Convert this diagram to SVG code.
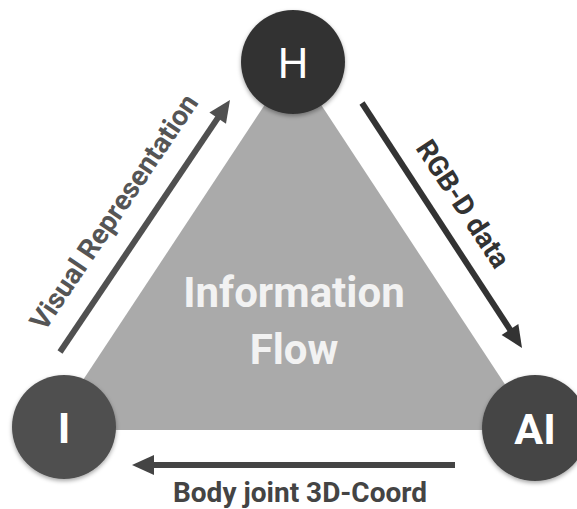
<svg xmlns="http://www.w3.org/2000/svg" width="577" height="509" viewBox="0 0 577 509">
<defs>
<style>
.lbl{font-family:Roboto,"Liberation Sans",sans-serif;font-weight:bold;font-size:28px;text-anchor:middle}
.node text{font-family:Roboto,"Liberation Sans",sans-serif;font-size:43px;fill:#fff;text-anchor:middle;dominant-baseline:central}
.conn line{stroke-width:6;fill:none}
</style>
<filter id="sh" x="-20%" y="-20%" width="140%" height="150%">
<feDropShadow dx="0" dy="2" stdDeviation="2" flood-color="#000" flood-opacity="0.35"/>
</filter>
<marker id="a1" markerUnits="userSpaceOnUse" markerWidth="24" markerHeight="24" refX="7" refY="0" orient="auto" viewBox="0 -12 24 24" overflow="visible"><path d="M0,-10 L22,0 L0,10 z" fill="#505050"/></marker>
<marker id="a2" markerUnits="userSpaceOnUse" markerWidth="24" markerHeight="24" refX="7" refY="0" orient="auto" viewBox="0 -12 24 24" overflow="visible"><path d="M0,-10 L22,0 L0,10 z" fill="#333"/></marker>
<marker id="a3" markerUnits="userSpaceOnUse" markerWidth="24" markerHeight="24" refX="7" refY="0" orient="auto" viewBox="0 -12 24 24" overflow="visible"><path d="M0,-10 L22,0 L0,10 z" fill="#444"/></marker>
</defs>
<rect width="577" height="509" fill="#fff"/>
<g id="flow">
<polygon points="293,62 50,430 535,430" fill="#aaaaaa"/>
<text x="294" y="307" style="font-family:Roboto,'Liberation Sans',sans-serif;font-weight:bold;font-size:42px;fill:#f2f2f2;text-anchor:middle">Information</text>
<text x="294" y="364" style="font-family:Roboto,'Liberation Sans',sans-serif;font-weight:bold;font-size:42px;fill:#f2f2f2;text-anchor:middle">Flow</text>
</g>
<g class="conn" id="connectors">
<line x1="60" y1="352" x2="221.6" y2="112.4" stroke="#505050" marker-end="url(#a1)"/>
<line x1="362" y1="103" x2="513.8" y2="335.4" stroke="#333" marker-end="url(#a2)"/>
<line x1="455" y1="465" x2="147" y2="465" stroke="#444" marker-end="url(#a3)"/>
<text class="lbl" fill="#555" transform="translate(114,212) rotate(-56)" dominant-baseline="central">Visual Representation</text>
<text class="lbl" fill="#333" transform="translate(463,204) rotate(56.8)" dominant-baseline="central">RGB-D data</text>
<text class="lbl" fill="#444" x="300" y="502">Body joint 3D-Coord</text>
</g>
<g class="node" id="node-H">
<circle cx="293" cy="62" r="52" fill="#333333" filter="url(#sh)"/>
<text x="293" y="63">H</text>
</g>
<g class="node" id="node-I">
<circle cx="64" cy="427" r="52" fill="#505050" filter="url(#sh)"/>
<text x="64" y="428" font-weight="bold">I</text>
</g>
<g class="node" id="node-AI">
<circle cx="535" cy="428" r="53" fill="#454545" filter="url(#sh)"/>
<text x="535" y="429" font-weight="bold">AI</text>
</g>
</svg>
